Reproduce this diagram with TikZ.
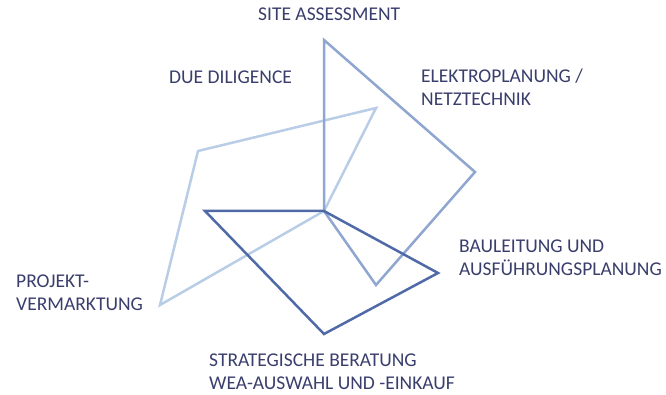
\documentclass[tikz,border=0pt]{standalone}
\usepackage{fontspec}
\setmainfont{Carlito}
\usepackage{xcolor}
\definecolor{textnavy}{HTML}{393E6C}
\definecolor{palestroke}{HTML}{B9CDE6}
\definecolor{midstroke}{HTML}{8FA6D1}
\definecolor{darkstroke}{HTML}{4F6AA7}
\tikzset{
  label/.style={anchor=base west, align=left, text=textnavy, inner sep=0pt,
    text depth=0pt, font=\fontsize{19.5}{23}\selectfont},
  frame/.style={line width=2.5pt, line join=miter}
}

\begin{document}
\begin{tikzpicture}[x=1pt,y=-1pt]
    \useasboundingbox (0,0) rectangle (666,395);
    \coordinate (hub) at (324,211);
    % pale frame
    \coordinate (pa) at (376,108);
    \coordinate (pb) at (198,151);
    \coordinate (pc) at (160,305);
    \draw[frame, palestroke] (hub) -- (pa) -- (pb) -- (pc) -- cycle;
    % middle frame
    \coordinate (ma) at (324,40);
    \coordinate (mb) at (475,172);
    \coordinate (mc) at (376,285);
    \draw[frame, midstroke] (hub) -- (ma) -- (mb) -- (mc) -- cycle;
    % dark frame
    \coordinate (da) at (205,211);
    \coordinate (db) at (324,334);
    \coordinate (dc) at (438,273);
    \draw[frame, darkstroke] (hub) -- (da) -- (db) -- (dc) -- cycle;
    % labels (base = last line)
    \node[label] (site) at (258,21) {SITE ASSESSMENT};
    \node[label] (due) at (169,84) {DUE DILIGENCE};
    \node[label] (elektro) at (421,106) {ELEKTROPLANUNG /\\NETZTECHNIK};
    \node[label] (bau) at (459,276) {BAULEITUNG UND\\AUSFÜHRUNGSPLANUNG};
    \node[label] (projekt) at (16,310) {PROJEKT-\\VERMARKTUNG};
    \node[label] (strat) at (209,389) {STRATEGISCHE BERATUNG\\WEA-AUSWAHL UND -EINKAUF};
\end{tikzpicture}
\end{document}
